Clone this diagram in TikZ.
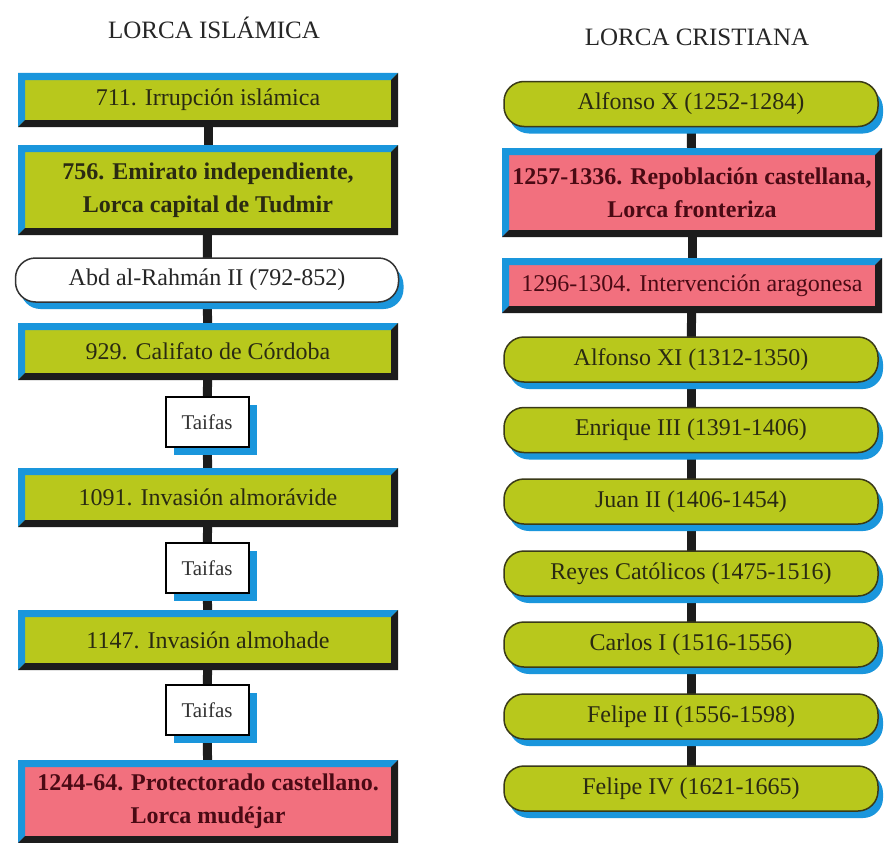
\documentclass[tikz,border=0pt]{standalone}
\usepackage{fontspec}
\setmainfont{Liberation Serif}
\usetikzlibrary{backgrounds,shadows}
\definecolor{limefill}{HTML}{B8C81C}
\definecolor{pinkfill}{HTML}{F2707E}
\definecolor{blueshade}{HTML}{1A96DC}
\definecolor{darkshade}{HTML}{1C1C1C}
\definecolor{txtdark}{HTML}{2A2A12}
\definecolor{txtpink}{HTML}{4A0A14}
\definecolor{outline}{HTML}{3A3A18}
\tikzset{
  every node/.style={font=\fontsize{24}{33}\selectfont, align=center, inner sep=0pt},
  boldtxt/.style={font=\fontsize{24}{33}\selectfont\bfseries},
  hdr/.style={font=\fontsize{25}{30}\selectfont, text=black!85},
  rectbox/.style={rectangle, minimum width=380pt,
    path picture={
      \fill[blueshade] (path picture bounding box.north west) -- (path picture bounding box.north east)
        -- ([xshift=-7pt,yshift=-7pt]path picture bounding box.north east)
        -- ([xshift=7pt,yshift=-7pt]path picture bounding box.north west)
        -- ([xshift=7pt,yshift=7pt]path picture bounding box.south west)
        -- (path picture bounding box.south west) -- cycle;
      \fill[darkshade] (path picture bounding box.south east) -- (path picture bounding box.north east)
        -- ([xshift=-7pt,yshift=-7pt]path picture bounding box.north east)
        -- ([xshift=-7pt,yshift=7pt]path picture bounding box.south east)
        -- ([xshift=7pt,yshift=7pt]path picture bounding box.south west)
        -- (path picture bounding box.south west) -- cycle;
    }},
  greenrect/.style={rectbox, fill=limefill, text=txtdark},
  pinkrect/.style={rectbox, fill=pinkfill, text=txtpink},
  roundbox/.style={rectangle, rounded corners=20pt, minimum width=374pt, minimum height=45pt,
    draw=outline, line width=1.5pt, fill=limefill, text=txtdark,
    general shadow={fill=blueshade, shadow xshift=5pt, shadow yshift=-7pt}},
  whiteround/.style={roundbox, fill=white, minimum width=383pt, minimum height=44pt, text=black!85,
    draw=black!80},
  taifa/.style={rectangle, draw=black, line width=2pt, fill=white, minimum width=83pt,
    minimum height=50pt, text=black!80, font=\fontsize{21}{25}\selectfont,
    general shadow={fill=blueshade, shadow xshift=8pt, shadow yshift=-8pt}},
  conn/.style={line width=9pt, draw=darkshade}
}
\begin{document}
\begin{tikzpicture}[x=1pt, y=-1pt]
\useasboundingbox (0,0) rectangle (886,843);
\begin{scope}[on background layer]
\fill[white] (0,0) rectangle (886,843);
\end{scope}
% Left column
\node[hdr] (hl) at (214,28) {LORCA ISLÁMICA};
\node[greenrect, minimum height=54pt] (l1) at (208,100) {711. Irrupción islámica};
\node[greenrect, boldtxt, minimum height=90pt] (l2) at (208,190) {756. Emirato independiente,\\Lorca capital de Tudmir};
\node[whiteround] (l3) at (207,280) {Abd al-Rahmán II (792-852)};
\node[greenrect, minimum height=57pt] (l4) at (208,351.5) {929. Califato de Córdoba};
\node[taifa] (t1) at (207,422) {Taifas};
\node[greenrect, minimum height=59pt] (l5) at (208,497.5) {1091. Invasión almorávide};
\node[taifa] (t2) at (207,568) {Taifas};
\node[greenrect, minimum height=60pt] (l6) at (208,640) {1147. Invasión almohade};
\node[taifa] (t3) at (207,710) {Taifas};
\node[pinkrect, boldtxt, minimum height=83pt] (l7) at (208,801.5) {1244-64. Protectorado castellano.\\Lorca mudéjar};
% Right column
\node[hdr] (hr) at (697,37) {LORCA CRISTIANA};
\node[roundbox] (r1) at (691,104) {Alfonso X (1252-1284)};
\node[pinkrect, boldtxt, minimum height=89pt] (r2) at (692,192.5) {1257-1336. Repoblación castellana,\\Lorca fronteriza};
\node[pinkrect, minimum height=55pt] (r3) at (692,285.5) {1296-1304. Intervención aragonesa};
\node[roundbox] (r4) at (691,359.5) {Alfonso XI (1312-1350)};
\node[roundbox] (r5) at (691,430) {Enrique III (1391-1406)};
\node[roundbox] (r6) at (691,501.5) {Juan II (1406-1454)};
\node[roundbox] (r7) at (691,573.5) {Reyes Católicos (1475-1516)};
\node[roundbox] (r8) at (691,644.5) {Carlos I (1516-1556)};
\node[roundbox] (r9) at (691,716.5) {Felipe II (1556-1598)};
\node[roundbox] (r10) at (691,788.5) {Felipe IV (1621-1665)};
% Connectors
\begin{scope}[on background layer]
\draw[conn] (l1.center) -- (l2.center);
\draw[conn] (l2.center) -- (l3.center);
\draw[conn] (l3.center) -- (l4.center);
\draw[conn] (l4.center) -- (t1.center);
\draw[conn] (t1.center) -- (l5.center);
\draw[conn] (l5.center) -- (t2.center);
\draw[conn] (t2.center) -- (l6.center);
\draw[conn] (l6.center) -- (t3.center);
\draw[conn] (t3.center) -- (l7.center);
\draw[conn] (r1.center) -- (r2.center);
\draw[conn] (r2.center) -- (r3.center);
\draw[conn] (r3.center) -- (r4.center);
\draw[conn] (r4.center) -- (r5.center);
\draw[conn] (r5.center) -- (r6.center);
\draw[conn] (r6.center) -- (r7.center);
\draw[conn] (r7.center) -- (r8.center);
\draw[conn] (r8.center) -- (r9.center);
\draw[conn] (r9.center) -- (r10.center);
\end{scope}
\end{tikzpicture}
\end{document}
